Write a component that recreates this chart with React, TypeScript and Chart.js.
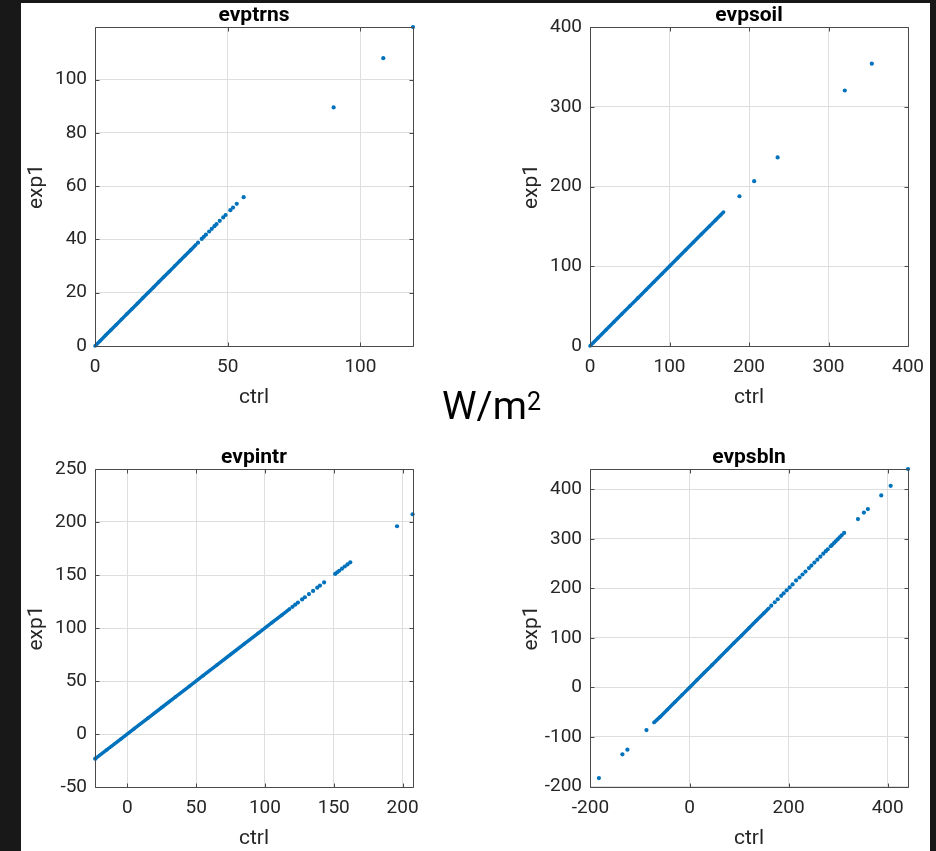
import React, { useEffect, useRef } from "react";
import { Chart, registerables } from "chart.js";

Chart.register(...registerables);

const BLUE = "#0072BD";

// ---------- evptrns ----------
const evptrnsCoreCtrl = [0, 2, 4, 6, 8, 10, 12, 14, 16, 18, 20, 22, 24, 26, 28, 30, 32, 34, 36, 38];
const evptrnsCoreExp1 = [0, 2, 4, 6, 8, 10, 12, 14, 16, 18, 20, 22, 24, 26, 28, 30, 32, 34, 36, 38];
const evptrnsCtrl = [38.8, 40.2, 41.0, 41.8, 43.0, 44.0, 45.0, 45.8, 47.0, 48.3, 49.2, 51.0, 52.0, 53.4, 56.0, 89.9, 108.6, 119.8];
const evptrnsExp1 = [38.8, 40.2, 41.0, 41.8, 43.0, 44.0, 45.0, 45.8, 47.0, 48.3, 49.2, 51.0, 52.0, 53.4, 55.9, 89.6, 108.1, 119.8];
const evptrnsXTicks = [0, 50, 100];
const evptrnsYTicks = [0, 20, 40, 60, 80, 100];

// ---------- evpsoil ----------
const evpsoilCoreCtrl = [0, 10, 20, 30, 40, 50, 60, 70, 80, 90, 100, 110, 120, 130, 140, 150, 158, 164, 168];
const evpsoilCoreExp1 = [0, 10, 20, 30, 40, 50, 60, 70, 80, 90, 100, 110, 120, 130, 140, 150, 158, 164, 168];
const evpsoilCtrl = [188.0, 206.5, 236.0, 320.5, 354.5];
const evpsoilExp1 = [187.8, 206.7, 236.5, 320.4, 354.0];
const evpsoilXTicks = [0, 100, 200, 300, 400];
const evpsoilYTicks = [0, 100, 200, 300, 400];

// ---------- evpintr ----------
const evpintrCoreCtrl = [-23.3, -15, -5, 5, 15, 25, 35, 45, 55, 65, 75, 85, 95, 105, 112, 118];
const evpintrCoreExp1 = [-23.3, -15, -5, 5, 15, 25, 35, 45, 55, 65, 75, 85, 95, 105, 112, 118];
const evpintrCtrl = [-23.3, 120, 122, 124, 127, 129, 132, 135, 138, 140, 143, 151, 152.5, 154, 156, 158, 160, 162, 196, 207.3];
const evpintrExp1 = [-23.3, 120, 122, 124, 127, 129, 132, 135, 138, 140, 143, 151, 152.5, 154, 156, 158, 160, 162, 196, 207.3];
const evpintrXTicks = [0, 50, 100, 150, 200];
const evpintrYTicks = [-50, 0, 50, 100, 150, 200, 250];

// ---------- evpsbln ----------
const evpsblnCoreCtrl = [-72, -60, -45, -30, -15, 0, 15, 30, 45, 60, 75, 90, 105, 120, 135, 150, 160];
const evpsblnCoreExp1 = [-71, -60, -45, -30, -15, 0, 15, 30, 45, 60, 75, 90, 105, 120, 135, 150, 160];
const evpsblnCtrl = [-183, -135.6, -125.5, -87, 165, 172, 178, 185, 190, 196, 202, 208, 215, 222, 228, 234, 241, 246, 252, 258, 264, 270, 275, 279, 285, 288, 292, 295, 299, 303, 307, 312, 340, 352, 360, 387, 406, 441];
const evpsblnExp1 = [-183, -135, -125.6, -86, 165, 172, 178, 185, 190, 196, 202, 208, 216, 222, 228, 234, 241, 246, 252, 258, 264, 270, 275, 279, 285, 288, 292, 295, 299, 303, 307, 312, 340, 353, 360, 387.7, 407, 441];
const evpsblnXTicks = [-200, 0, 200, 400];
const evpsblnYTicks = [-200, -100, 0, 100, 200, 300, 400];

type Panel = {
  title: string;
  coreX: number[];
  coreY: number[];
  ptsX: number[];
  ptsY: number[];
  xMin: number;
  xMax: number;
  yMin: number;
  yMax: number;
  xTicks: number[];
  yTicks: number[];
  left: number;
  top: number;
  h: number;
};

const PANELS: Panel[] = [
  {
    title: "evptrns", coreX: evptrnsCoreCtrl, coreY: evptrnsCoreExp1, ptsX: evptrnsCtrl, ptsY: evptrnsExp1,
    xMin: 0, xMax: 119.8, yMin: 0, yMax: 119.8, xTicks: evptrnsXTicks, yTicks: evptrnsYTicks,
    left: 0, top: 0, h: 420,
  },
  {
    title: "evpsoil", coreX: evpsoilCoreCtrl, coreY: evpsoilCoreExp1, ptsX: evpsoilCtrl, ptsY: evpsoilExp1,
    xMin: 0, xMax: 400, yMin: 0, yMax: 400, xTicks: evpsoilXTicks, yTicks: evpsoilYTicks,
    left: 495, top: 0, h: 420,
  },
  {
    title: "evpintr", coreX: evpintrCoreCtrl, coreY: evpintrCoreExp1, ptsX: evpintrCtrl, ptsY: evpintrExp1,
    xMin: -23.5, xMax: 207.6, yMin: -50, yMax: 250, xTicks: evpintrXTicks, yTicks: evpintrYTicks,
    left: 0, top: 442, h: 419,
  },
  {
    title: "evpsbln", coreX: evpsblnCoreCtrl, coreY: evpsblnCoreExp1, ptsX: evpsblnCtrl, ptsY: evpsblnExp1,
    xMin: -201, xMax: 441, yMin: -201, yMax: 441, xTicks: evpsblnXTicks, yTicks: evpsblnYTicks,
    left: 495, top: 442, h: 419,
  },
];

const zip = (a: number[], b: number[]) => a.map((x, i) => ({ x, y: b[i] }));

const AXIS = "#4a4a4a";
const TEXT = "#262626";
const GRID = "#dedede";

const boxPlugin = {
  id: "matlabBox",
  afterDatasetsDraw(chart: any) {
    const { ctx, chartArea, scales } = chart;
    const l = Math.round(chartArea.left) + 0.5;
    const t = Math.round(chartArea.top) + 0.5;
    const r = Math.round(chartArea.right) + 0.5;
    const b = Math.round(chartArea.bottom) + 0.5;
    ctx.save();
    ctx.strokeStyle = AXIS;
    ctx.lineWidth = 1;
    ctx.beginPath();
    ctx.rect(l, t, r - l, b - t);
    const tl = 4;
    for (const tk of scales.x.ticks) {
      const px = Math.round(scales.x.getPixelForValue(tk.value)) + 0.5;
      ctx.moveTo(px, b);
      ctx.lineTo(px, b - tl);
      ctx.moveTo(px, t);
      ctx.lineTo(px, t + tl);
    }
    for (const tk of scales.y.ticks) {
      const py = Math.round(scales.y.getPixelForValue(tk.value)) + 0.5;
      ctx.moveTo(l, py);
      ctx.lineTo(l + tl, py);
      ctx.moveTo(r, py);
      ctx.lineTo(r - tl, py);
    }
    ctx.stroke();
    ctx.restore();
  },
};

function PanelChart({ p }: { p: Panel }) {
  const ref = useRef<HTMLCanvasElement>(null);
  useEffect(() => {
    const chart = new Chart(ref.current as HTMLCanvasElement, {
      type: "scatter",
      data: {
        datasets: [
          {
            data: zip(p.coreX, p.coreY),
            showLine: true,
            borderColor: BLUE,
            borderWidth: 3.5,
            backgroundColor: BLUE,
            pointBackgroundColor: BLUE,
            pointBorderWidth: 0,
            pointRadius: 1.8,
            clip: false,
          } as any,
          {
            data: zip(p.ptsX, p.ptsY),
            showLine: false,
            backgroundColor: BLUE,
            pointBackgroundColor: BLUE,
            pointBorderWidth: 0,
            pointRadius: 2.1,
            clip: false,
          } as any,
        ],
      },
      options: {
        responsive: false,
        animation: false,
        devicePixelRatio: 1,
        events: [],
        layout: { padding: { left: 0, right: 95, top: 0, bottom: 0 } },
        plugins: {
          legend: { display: false },
          tooltip: { enabled: false },
          title: {
            display: true,
            fullSize: false,
            text: p.title,
            color: "#000",
            font: { family: "Roboto", size: 21, weight: "bold", lineHeight: "23px" } as any,
            padding: { top: 4, bottom: 0 },
          },
        },
        scales: {
          x: {
            type: "linear",
            position: "bottom",
            min: p.xMin,
            max: p.xMax,
            afterBuildTicks: (s: any) => {
              s.ticks = p.xTicks.map((v) => ({ value: v }));
            },
            afterFit: (s: any) => {
              s.height = 74;
            },
            ticks: {
              color: TEXT,
              font: { family: "Roboto", size: 19 },
              padding: 10,
              maxRotation: 0,
              minRotation: 0,
              autoSkip: false,
              callback: (v: any) => String(v),
            },
            grid: { color: GRID, drawTicks: false, lineWidth: 1 },
            border: { display: false },
            title: {
              display: true,
              text: "ctrl",
              color: TEXT,
              font: { family: "Roboto", size: 21, lineHeight: 1.2 },
              padding: { top: 0, bottom: 10 },
            },
          },
          y: {
            type: "linear",
            position: "left",
            min: p.yMin,
            max: p.yMax,
            afterBuildTicks: (s: any) => {
              s.ticks = p.yTicks.map((v) => ({ value: v }));
            },
            afterFit: (s: any) => {
              s.width = 95;
            },
            ticks: {
              color: TEXT,
              font: { family: "Roboto", size: 19 },
              padding: 8,
              autoSkip: false,
              callback: (v: any) => String(v),
            },
            grid: { color: GRID, drawTicks: false, lineWidth: 1 },
            border: { display: false },
            title: {
              display: true,
              text: "exp1",
              color: TEXT,
              font: { family: "Roboto", size: 21, lineHeight: 1.2 },
              padding: { top: 24, bottom: 0 },
            },
          },
        },
      } as any,
      plugins: [boxPlugin],
    });
    return () => chart.destroy();
  }, []);
  return (
    <canvas
      ref={ref}
      width={508}
      height={p.h}
      style={{ position: "absolute", left: p.left, top: p.top, width: 508, height: p.h }}
    />
  );
}

export default function App() {
  return (
    <div
      style={{
        position: "absolute",
        left: 0,
        top: 0,
        width: 936,
        height: 851,
        overflow: "hidden",
        background: "#181818",
        fontFamily: "Roboto, sans-serif",
      }}
    >
      <div style={{ position: "absolute", left: 21, top: 3, width: 909, height: 848, background: "#ffffff" }} />
      {PANELS.map((p) => (
        <PanelChart key={p.title} p={p} />
      ))}
      <div
        style={{
          position: "absolute",
          left: 442,
          top: 387,
          fontSize: 39,
          lineHeight: 1,
          color: "#000",
          whiteSpace: "nowrap",
        }}
      >
        W/m
      </div>
      <div
        style={{
          position: "absolute",
          left: 527,
          top: 389,
          fontSize: 25,
          lineHeight: 1,
          color: "#000",
        }}
      >
        2
      </div>
    </div>
  );
}
